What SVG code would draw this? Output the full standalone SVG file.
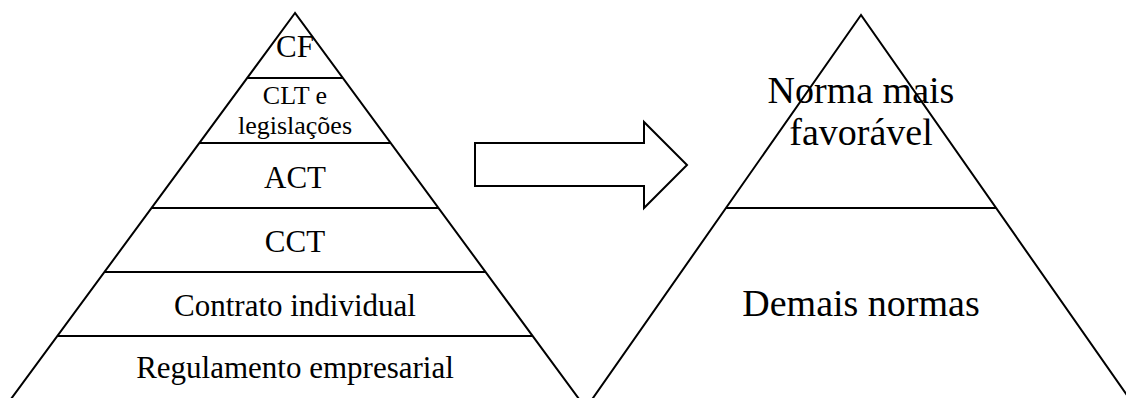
<svg xmlns="http://www.w3.org/2000/svg" width="1126" height="398" viewBox="0 0 1126 398">
<style>
.shape{fill:none;stroke:#000;stroke-width:2;stroke-linejoin:miter}
.band{stroke:#000;stroke-width:2}
.t{font-family:"Liberation Serif","Times New Roman",serif;fill:#000;text-anchor:middle}
.s31{font-size:31px}
.s26{font-size:26px}
.s38{font-size:38px}
</style>
<rect x="0" y="0" width="1126" height="398" fill="#fff"/>
<g id="left-pyramid">
<polygon class="shape" points="295,13 -3,418 593,418"/>
<line class="band" x1="247" y1="78" x2="343" y2="78"/>
<line class="band" x1="200" y1="143" x2="390" y2="143"/>
<line class="band" x1="152" y1="208" x2="438" y2="208"/>
<line class="band" x1="105" y1="272" x2="485" y2="272"/>
<line class="band" x1="58" y1="336" x2="532" y2="336"/>
</g>
<g id="level-cf"><text class="t s31" x="295" y="57">CF</text></g>
<g id="level-clt"><text class="t s26" x="295" y="104">CLT e</text><text class="t s26" x="295" y="133.5">legislações</text></g>
<g id="level-act"><text class="t s31" x="295" y="188">ACT</text></g>
<g id="level-cct"><text class="t s31" x="295" y="252">CCT</text></g>
<g id="level-contrato"><text class="t s31" x="295" y="316">Contrato individual</text></g>
<g id="level-regulamento"><text class="t s31" x="295" y="378">Regulamento empresarial</text></g>
<g id="connectors">
<polygon class="shape" points="475,143 644,143 644,122 687,165 644,208 644,186 475,186"/>
</g>
<g id="right-pyramid">
<polygon class="shape" points="861,15 579,418 1143,418"/>
<line class="band" x1="726" y1="208" x2="996" y2="208"/>
</g>
<g id="level-favoravel"><text class="t s38" x="861" y="103">Norma mais</text><text class="t s38" x="861" y="145">favorável</text></g>
<g id="level-demais"><text class="t s38" x="861" y="316">Demais normas</text></g>
</svg>
